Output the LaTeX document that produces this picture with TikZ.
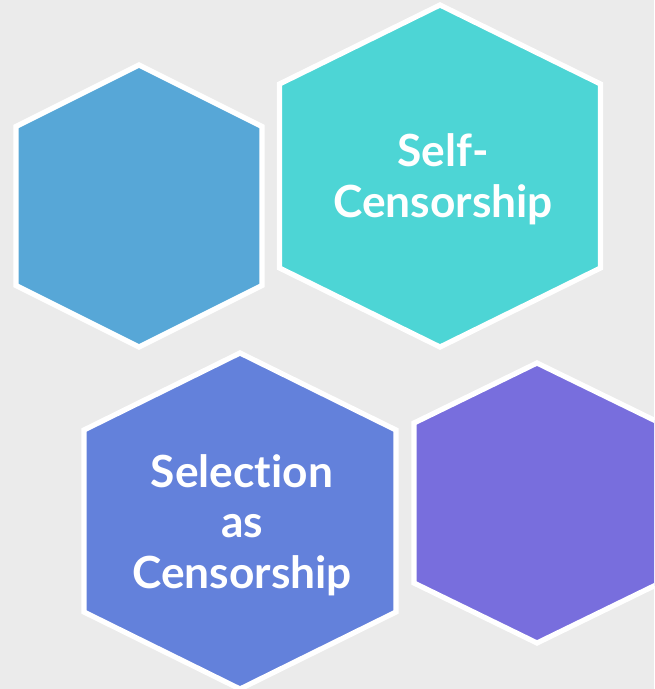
\documentclass[tikz,border=0pt]{standalone}
\usepackage{fontspec}
\setmainfont{Lato}[Ligatures=NoCommon]

\definecolor{backgray}{HTML}{EBEBEB}
\definecolor{hexblue}{HTML}{57A7D7}
\definecolor{hexteal}{HTML}{4DD5D5}
\definecolor{hexindigo}{HTML}{6381DB}
\definecolor{hexviolet}{HTML}{786EDD}

\begin{document}
\begin{tikzpicture}[x=0.025cm, y=-0.025cm,
    hexa/.style={draw=white, line width=1.3mm},
    caption/.style={text=white, font=\bfseries\fontsize{31.5}{36}\selectfont, align=center}]
    \fill[backgray] (0,0) rectangle (654,689);
    \clip (0,0) rectangle (654,689);

    % centre x / centre y / half width / half height / side height / colour
    \foreach \cx/\cy/\w/\h/\s/\col in {139/206/123/141/79.5/hexblue,
                                       440/176/160.5/171/92/hexteal,
                                       240/521/156/168/91/hexindigo,
                                       537/503/123/140/80/hexviolet}
        \filldraw[hexa, fill=\col] (\cx,\cy-\h) -- (\cx+\w,\cy-\s)
            -- (\cx+\w,\cy+\s) -- (\cx,\cy+\h) -- (\cx-\w,\cy+\s)
            -- (\cx-\w,\cy-\s) -- cycle;

    \node[caption] (self) at (443,179) {Self-\\Censorship};
    \node[caption] (selection) at (242,525) {Selection\\as\\Censorship};
\end{tikzpicture}
\end{document}
